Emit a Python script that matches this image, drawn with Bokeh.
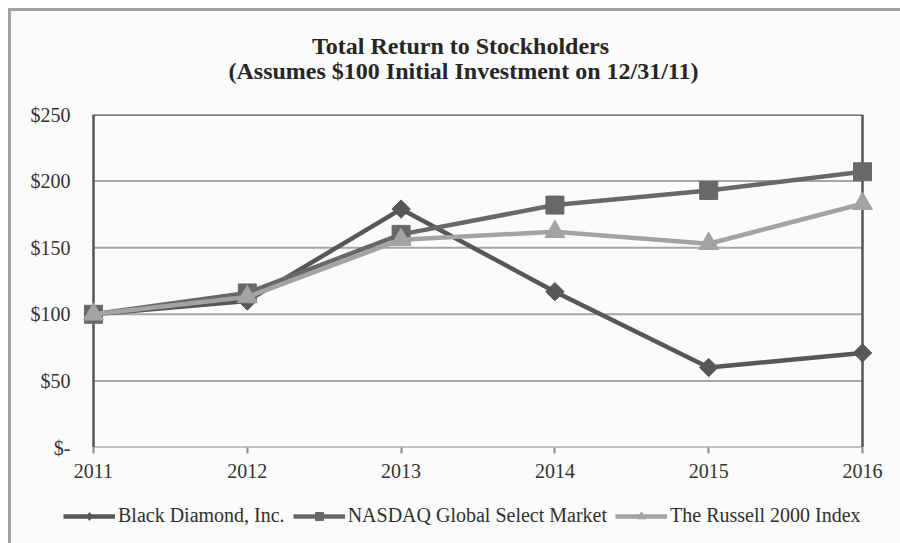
from bokeh.plotting import figure
from bokeh.models import Range1d, FixedTicker, Label, Legend, LegendItem
from bokeh.layouts import column
from bokeh.embed import file_html
from bokeh.resources import INLINE

years = [2011, 2012, 2013, 2014, 2015, 2016]
black_diamond = [100, 110, 179, 117, 60, 71]
nasdaq = [100, 116, 160, 182, 193, 207]
russell = [100, 113, 156, 162, 153, 183]
y_ticks = [0, 50, 100, 150, 200, 250]
y_labels = ["$-", "$50", "$100", "$150", "$200", "$250"]
series_names = ["Black Diamond, Inc.", "NASDAQ Global Select Market", "The Russell 2000 Index"]
title_lines = ["Total Return to Stockholders", "(Assumes $100 Initial Investment on 12/31/11)"]

FONT = "Liberation Serif"
pad = 0.078
FRAME_LEFT = 81
colors = ["#575757", "#686868", "#a3a3a3"]
markers = ["square", "square", "triangle"]
legend_markers = ["diamond", "square", "triangle"]
angles = [0.785398, 0.0, 0.0]
sizes = [13, 18, 20]
data = [black_diamond, nasdaq, russell]


def bare(fig):
    fig.outline_line_color = None
    fig.border_fill_alpha = 0
    fig.background_fill_alpha = 0
    fig.xgrid.visible = False
    fig.ygrid.visible = False
    return fig


def unaligned(fig):
    # opt out of frame alignment with the main chart, if supported
    try:
        fig.frame_align = False
        return 0
    except Exception:
        return FRAME_LEFT


# ---- header with the two title lines
head = bare(figure(width=900, height=102, output_backend="svg", toolbar_location=None, title=None,
                   x_range=Range1d(0, 1), y_range=Range1d(0, 1), min_border=0,
                   x_axis_location=None, y_axis_location=None))
hx = unaligned(head)
head.add_layout(Label(x=460 - hx, y=57, x_units="screen", y_units="screen", text=title_lines[0],
                      text_align="center", text_baseline="middle", text_font=FONT,
                      text_font_size="24px", text_font_style="bold", text_color="#262626"))
head.add_layout(Label(x=463 - hx, y=32, x_units="screen", y_units="screen", text=title_lines[1],
                      text_align="center", text_baseline="middle", text_font=FONT,
                      text_font_size="24px", text_font_style="bold", text_color="#262626"))

# ---- main chart
p = bare(figure(frame_width=793, frame_height=333, output_backend="svg", toolbar_location=None, title=None,
                x_range=Range1d(years[0] - pad, years[-1] + pad),
                y_range=Range1d(y_ticks[0], y_ticks[-1]),
                min_border_left=FRAME_LEFT, min_border_right=26, min_border_top=12, min_border_bottom=44))

grid_vals = y_ticks[1:-1]
p.segment(x0=[years[0]] * len(grid_vals), x1=[years[-1]] * len(grid_vals), y0=grid_vals, y1=grid_vals,
          line_color="#a6a6a6", line_width=2)
p.segment(x0=[years[0]], x1=[years[-1]], y0=[y_ticks[0]], y1=[y_ticks[0]], line_color="#8a8a8a", line_width=2)
p.segment(x0=[years[0], years[-1], years[0]], x1=[years[0], years[-1], years[-1]],
          y0=[y_ticks[0], y_ticks[0], y_ticks[-1]], y1=[y_ticks[-1], y_ticks[-1], y_ticks[-1]],
          line_color="#555555", line_width=2.5)

for vals, c, m, a, s in zip(data, colors, markers, angles, sizes):
    p.line(years, vals, line_color=c, line_width=4.5)
    p.scatter(years, vals, marker=m, angle=a, size=s, fill_color=c, line_color=c)

xa = p.xaxis[0]
xa.ticker = FixedTicker(ticks=years)
xa.major_label_overrides = {y: str(y) for y in years}
xa.axis_line_color = None
xa.major_tick_line_color = "#8a8a8a"
xa.major_tick_line_width = 2
xa.major_tick_out = 6
xa.major_tick_in = 0
xa.minor_tick_line_color = None
xa.major_label_standoff = 10
xa.major_label_text_font = FONT
xa.major_label_text_font_size = "20px"
xa.major_label_text_color = "#333333"

ya = p.yaxis[0]
ya.ticker = FixedTicker(ticks=y_ticks)
ya.major_label_overrides = dict(zip(y_ticks, y_labels))
ya.axis_line_color = None
ya.major_tick_line_color = None
ya.minor_tick_line_color = None
ya.major_label_standoff = 5
ya.major_label_text_font = FONT
ya.major_label_text_font_size = "20px"
ya.major_label_text_color = "#333333"

# ---- legend strip
leg = bare(figure(width=900, height=52, output_backend="svg", toolbar_location=None, title=None,
                  x_range=Range1d(0, 1), y_range=Range1d(0, 1), min_border=0,
                  x_axis_location=None, y_axis_location=None))
lx = unaligned(leg)
items = []
for name, vals, c, m in zip(series_names, data, colors, legend_markers):
    lr = leg.line(years, vals, line_color=c, line_width=4.5)
    sr = leg.scatter(years, vals, marker=m, size=10, fill_color=c, line_color=c)
    items.append(LegendItem(label=name, renderers=[lr, sr]))
if lx == 0:
    leg_loc, gw = (63, 16), 52
else:
    leg_loc, gw = (0, 16), 48
legend = Legend(items=items, orientation="horizontal", location=leg_loc,
                label_text_font=FONT, label_text_font_size="20px", label_text_color="#303030",
                glyph_width=gw, glyph_height=20, label_standoff=3, spacing=8,
                padding=0, margin=0, border_line_color=None, background_fill_alpha=0)
leg.add_layout(legend)

layout = column(head, p, leg, spacing=0, styles={
    "background-color": "#ffffff",
    "background-image": ("linear-gradient(#a3a3a3, #a3a3a3), linear-gradient(#a3a3a3, #a3a3a3), "
                         "linear-gradient(#fbfbfb, #fbfbfb)"),
    "background-size": "3px 100%, 100% 3px, 100% 100%",
    "background-position": "8px 8px, 8px 8px, 8px 8px",
    "background-repeat": "no-repeat",
})

open("out.html", "w").write(file_html(layout, INLINE))
